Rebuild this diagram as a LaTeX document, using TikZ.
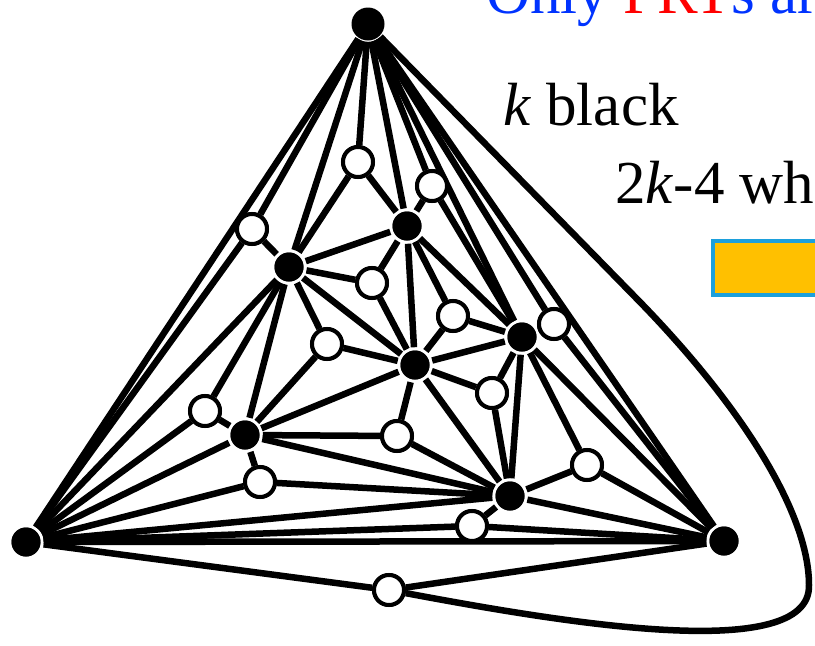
\documentclass[tikz,border=0pt]{standalone}
\usepackage{fontspec}
\setmainfont{Liberation Serif}
\definecolor{slideblue}{RGB}{0,51,255}
\definecolor{boxorange}{RGB}{255,192,0}
\definecolor{boxblue}{RGB}{28,160,220}
\begin{document}
\begin{tikzpicture}[x=1pt, y=-1pt, line width=6.5pt,
  blk/.style={circle, fill=black, inner sep=0pt, minimum size=29pt},
  wht/.style={circle, draw, fill=white, line width=4pt, inner sep=0pt, minimum size=30pt},
  lbl/.style={anchor=base west, inner sep=0pt, font=\fontsize{61}{70}\selectfont}]
  \clip (0,0) rectangle (815,646);
  % black vertices
  \foreach \n/\x/\y in {t/368/24, l/26/542, r/724/541, b1/407/226, b2/289/267,
                        b3/415/365, b4/522/337, b5/245/435, b6/510/496} {
    \node[blk] (\n) at (\x,\y) {};
  }
  % white vertices, one per face
  \foreach \n/\x/\y in {w1/358/162, w2/432/186, w3/252/229, w4/372/283, w5/453/316,
                        w6/554/324, w7/327/344, w8/492/393, w9/205/411, w10/397/436,
                        w11/587/465, w12/260/482, w13/472/526, w14/389/590} {
    \node[wht] (\n) at (\x,\y) {};
  }
  % triangulation
  \foreach \a/\b in {t/l, t/r, l/r, t/b2, t/b1, t/b4, b1/b2, b1/b4, b1/b3, b2/b3, b3/b4,
                     b2/l, b2/b5, b3/b5, b3/b6, b4/b6, b4/r, b5/l, b5/b6, b6/l, b6/r} {
    \draw (\a) -- (\b);
  }
  % face vertices to corners
  \foreach \w/\a/\b/\c in {w1/t/b2/b1, w2/t/b1/b4, w3/t/l/b2, w4/b1/b2/b3, w5/b1/b3/b4,
                           w6/t/b4/r, w7/b2/b3/b5, w8/b3/b4/b6, w9/l/b2/b5, w10/b3/b5/b6,
                           w11/b4/b6/r, w12/l/b5/b6, w13/l/b6/r} {
    \draw (\w) -- (\a) (\w) -- (\b) (\w) -- (\c);
  }
  \draw (w14) -- (l) (w14) -- (r);
  \draw (t) -- (640,302) .. controls (745,410) and (809,515) .. (809,585)
        .. controls (811,665) and (560,622) .. (w14);
  % redraw vertices on top
  \foreach \n in {l,r,b1,b2,b3,b4,b5,b6} {\node[blk] at (\n) {};}
  \node[blk, minimum size=33pt] at (t) {};
  \foreach \n in {w1,w2,w3,w4,w5,w6,w7,w8,w9,w10,w11,w12,w13,w14} {\node[wht] at (\n) {};}
  % texts
  \node[lbl, text=slideblue] (title) at (483,13) {Only \textcolor{red}{PRT}s ar};
  \node[lbl] (kblack) at (500,125) {\textit{k} black};
  \node[lbl] (kwhite) at (612,203) {2\textit{k}-4 wh};
  \node[draw=boxblue, fill=boxorange, line width=3.5pt, anchor=north west,
        minimum width=140pt, minimum height=54pt] (box) at (711,239) {};
\end{tikzpicture}
\end{document}
